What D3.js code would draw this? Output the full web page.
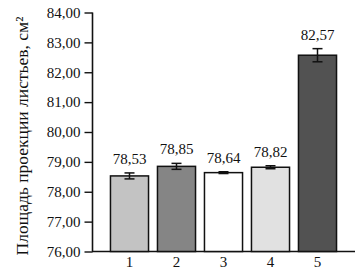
<!DOCTYPE html>
<html>
<head>
<meta charset="utf-8">
<script src="https://cdn.jsdelivr.net/npm/d3@7"></script>
<style>
  body { margin: 0; background: #fff; }
  text { font-family: "Liberation Serif", "Times New Roman", serif; fill: #111; }
</style>
</head>
<body>
<svg id="chart"></svg>
<script>
var categories = ["1", "2", "3", "4", "5"];
var values = [78.53, 78.85, 78.64, 78.82, 82.57];
var errors = [0.1, 0.1, 0.03, 0.05, 0.22];
var labels = ["78,53", "78,85", "78,64", "78,82", "82,57"];
var fills = ["#c3c3c3", "#858585", "#ffffff", "#e1e1e1", "#525252"];
var yTicks = [76, 77, 78, 79, 80, 81, 82, 83, 84];

var width = 355,
    height = 270;

var svg = d3.select("#chart")
    .attr("width", width)
    .attr("height", height);

var x = d3.scaleBand()
    .domain(categories)
    .range([106, 341])
    .paddingInner(0.19)
    .paddingOuter(0.095);

var y = d3.scaleLinear()
    .domain([76, 84])
    .range([251.5, 12.5]);

var fmt = function(d) { return d3.format(".2f")(d).replace(".", ","); };

// y axis
var yAxis = svg.append("g")
    .attr("transform", "translate(92.5,0)")
    .call(d3.axisLeft(y).tickValues(yTicks).tickSize(8).tickPadding(4).tickFormat(fmt));
yAxis.select(".domain").attr("stroke", "#111").attr("stroke-width", 1.6).attr("d", "M0," + y(84) + "V" + y(76));
yAxis.selectAll(".tick line").attr("stroke", "#111").attr("stroke-width", 1.4);
yAxis.selectAll(".tick text").style("font-size", "15px").style("font-family", "Liberation Serif").attr("fill", "#111");

// x axis
var xAxis = svg.append("g")
    .attr("transform", "translate(0," + y(76) + ")")
    .call(d3.axisBottom(x).tickSize(0).tickPadding(5));
xAxis.select(".domain").attr("stroke", "#111").attr("stroke-width", 1.6).attr("d", "M92,0H355");
xAxis.selectAll(".tick text").style("font-size", "15px").style("font-family", "Liberation Serif").attr("fill", "#111");

// bars
svg.selectAll("rect.bar")
    .data(values)
    .enter().append("rect")
    .attr("class", "bar")
    .attr("x", function(d, i) { return x(categories[i]); })
    .attr("width", x.bandwidth())
    .attr("y", function(d) { return y(d); })
    .attr("height", function(d) { return y(76) - y(d); })
    .attr("fill", function(d, i) { return fills[i]; })
    .attr("stroke", "#111")
    .attr("stroke-width", 1.5);

// error bars
var err = svg.selectAll("g.err")
    .data(values)
    .enter().append("g")
    .attr("class", "err")
    .attr("stroke", "#111")
    .attr("stroke-width", 1.5);
err.append("line")
    .attr("x1", function(d, i) { return x(categories[i]) + x.bandwidth() / 2; })
    .attr("x2", function(d, i) { return x(categories[i]) + x.bandwidth() / 2; })
    .attr("y1", function(d, i) { return y(d + errors[i]); })
    .attr("y2", function(d, i) { return y(d - errors[i]); });
err.append("line")
    .attr("x1", function(d, i) { return x(categories[i]) + x.bandwidth() / 2 - 5; })
    .attr("x2", function(d, i) { return x(categories[i]) + x.bandwidth() / 2 + 5; })
    .attr("y1", function(d, i) { return y(d + errors[i]); })
    .attr("y2", function(d, i) { return y(d + errors[i]); });
err.append("line")
    .attr("x1", function(d, i) { return x(categories[i]) + x.bandwidth() / 2 - 5; })
    .attr("x2", function(d, i) { return x(categories[i]) + x.bandwidth() / 2 + 5; })
    .attr("y1", function(d, i) { return y(d - errors[i]); })
    .attr("y2", function(d, i) { return y(d - errors[i]); });

// value labels
svg.selectAll("text.val")
    .data(values)
    .enter().append("text")
    .attr("class", "val")
    .attr("x", function(d, i) { return x(categories[i]) + x.bandwidth() / 2; })
    .attr("y", function(d, i) { return y(d + errors[i]) - 9; })
    .attr("text-anchor", "middle")
    .style("font-size", "15px")
    .text(function(d, i) { return labels[i]; });

// y title
svg.append("text")
    .attr("transform", "translate(28," + ((y(84) + y(76)) / 2 + 4) + ") rotate(-90)")
    .attr("text-anchor", "middle")
    .style("font-size", "17.5px")
    .text("Площадь проекции листьев, см²");
</script>
</body>
</html>
